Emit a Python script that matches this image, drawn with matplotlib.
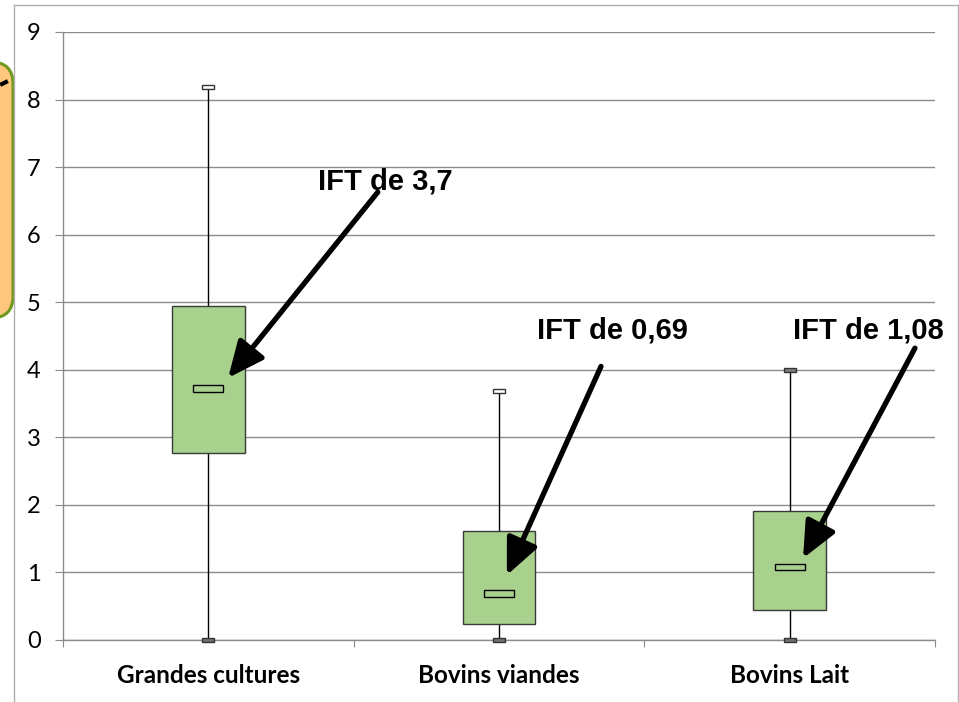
import matplotlib
matplotlib.use("Agg")
import matplotlib.pyplot as plt
from matplotlib.patches import Rectangle, FancyBboxPatch
from matplotlib.lines import Line2D

# ---- data ----
categories = ["Grandes cultures", "Bovins viandes", "Bovins Lait"]
minimum = [0.0, 0.0, 0.0]
q1 = [2.77, 0.24, 0.45]
median = [3.72, 0.69, 1.08]
q3 = [4.95, 1.62, 1.91]
maximum = [8.18, 3.68, 3.99]

labels = ["IFT de 3,7", "IFT de 0,69", "IFT de 1,08"]
label_pos = [(1.11, 6.79), (1.89, 4.58), (2.77, 4.58)]
arrow_start = [(1.083, 6.63), (1.851, 4.05), (2.931, 4.32)]
arrow_tip = [(0.568, 3.88), (1.527, 0.96), (2.546, 1.21)]

positions = [0.5, 1.5, 2.5]
box_w = 0.25
med_w, med_h = 0.103, 0.1
cap_w, cap_h = 0.042, 0.06

fig = plt.figure(figsize=(9.59, 7.02), dpi=100)
ax = fig.add_axes([63 / 959, 62 / 702, 872 / 959, 608 / 702])
ax.set_xlim(0, 3)
ax.set_ylim(0, 9)

grid_col = "#8c8c8c"
ax.yaxis.grid(True, color=grid_col, lw=1)
ax.set_axisbelow(True)

for i, x in enumerate(positions):
    # whiskers
    ax.plot([x, x], [q3[i], maximum[i]], color="black", lw=1, zorder=2)
    ax.plot([x, x], [minimum[i], q1[i]], color="black", lw=1, zorder=2)
    # box
    ax.add_patch(Rectangle((x - box_w / 2, q1[i]), box_w, q3[i] - q1[i],
                           facecolor="#a9d18e", edgecolor="#3a3a3a", lw=1, zorder=3))
    # median marker
    ax.add_patch(Rectangle((x - med_w / 2, median[i] - med_h / 2), med_w, med_h,
                           facecolor="#a9d18e", edgecolor="black", lw=1, zorder=4))
    # caps
    top_face = "#808080" if i == 2 else "white"
    ax.add_patch(Rectangle((x - cap_w / 2, maximum[i] - cap_h / 2), cap_w, cap_h,
                           facecolor=top_face, edgecolor="#333333", lw=1, zorder=4))
    ax.add_patch(Rectangle((x - cap_w / 2, minimum[i] - cap_h / 2), cap_w, cap_h,
                           facecolor="#707070", edgecolor="#333333", lw=1, zorder=4,
                           clip_on=False))

# ---- annotations ----
for txt, pos, start, tip in zip(labels, label_pos, arrow_start, arrow_tip):
    ax.text(pos[0], pos[1], txt, ha="center", va="center", fontsize=21,
            fontweight="bold", family="Liberation Sans", zorder=6)
    ax.annotate("", xy=tip, xytext=start,
                arrowprops=dict(arrowstyle="-|>,head_length=1.0,head_width=0.45",
                                lw=3.8, color="black", mutation_scale=22,
                                shrinkA=0, shrinkB=0), zorder=6)

# ---- axes styling ----
for side in ["top", "right"]:
    ax.spines[side].set_visible(False)
for side in ["left", "bottom"]:
    ax.spines[side].set_color(grid_col)
    ax.spines[side].set_linewidth(1)

ax.set_yticks(range(0, 10))
ax.tick_params(axis="y", direction="out", length=6, color=grid_col, pad=10,
               labelsize=17)
for lab in ax.get_yticklabels():
    lab.set_family("Lato")

ax.set_xticks([0, 1, 2, 3])
ax.set_xticklabels([])
ax.tick_params(axis="x", which="major", direction="out", length=5, color=grid_col)
ax.set_xticks(positions, minor=True)
ax.set_xticklabels(categories, minor=True, fontsize=17.5, fontweight="bold",
                   family="Lato")
ax.tick_params(axis="x", which="minor", length=0, pad=17)

# ---- outer chart frame and clipped callout at the left ----
frame = dict(color="#b0b0b0", lw=1, transform=fig.transFigure)
fig.add_artist(Line2D([14 / 959, 14 / 959], [0, 1 - 5 / 702], **frame))
fig.add_artist(Line2D([14 / 959, 957.5 / 959], [1 - 5 / 702, 1 - 5 / 702], **frame))
fig.add_artist(Line2D([957.5 / 959, 957.5 / 959], [0, 1 - 5 / 702], **frame))

callout = FancyBboxPatch((-60, 702 - 318), 73, 256, boxstyle="round,pad=0,rounding_size=22",
                         facecolor="#ffc77d", edgecolor="#6f9a1c", lw=2.2, transform=None)
fig.add_artist(callout)
fig.add_artist(Line2D([2, 6], [702 - 84, 702 - 82], color="black", lw=3, transform=None))

fig.savefig("out.png", dpi=100)
